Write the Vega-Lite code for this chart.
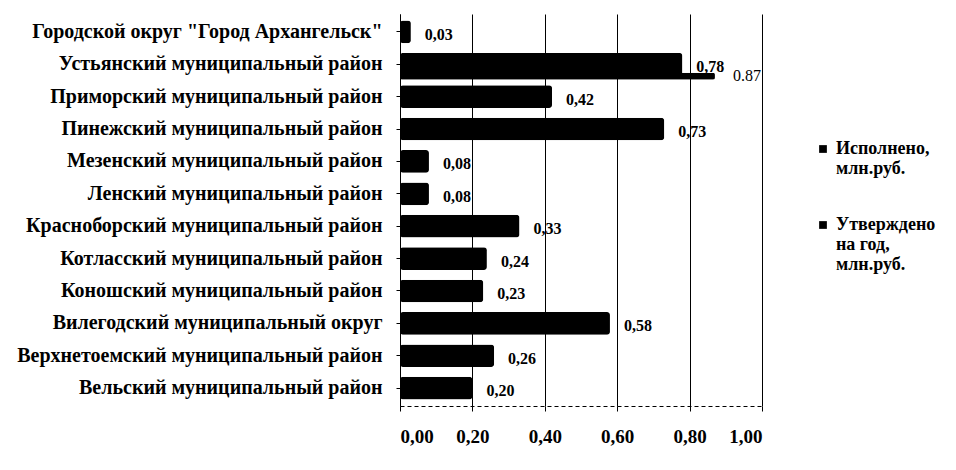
{
  "$schema": "https://vega.github.io/schema/vega-lite/v6.json",
  "autosize": "none",
  "width": 362,
  "height": 392,
  "padding": {"left": 400, "top": 14, "right": 194, "bottom": 64},
  "background": "white",
  "config": {
    "font": "Liberation Serif, Times New Roman, DejaVu Serif, serif",
    "view": {"stroke": null}
  },
  "data": {
    "values": [
      {"район": "Городской округ \"Город Архангельск\"", "серия": "Исполнено, млн.руб.", "значение": 0.03, "подпись": "0,03"},
      {"район": "Устьянский муниципальный район", "серия": "Исполнено, млн.руб.", "значение": 0.78, "подпись": "0,78"},
      {"район": "Устьянский муниципальный район", "серия": "Утверждено на год, млн.руб.", "значение": 0.87, "подпись": "0.87"},
      {"район": "Приморский муниципальный район", "серия": "Исполнено, млн.руб.", "значение": 0.42, "подпись": "0,42"},
      {"район": "Пинежский муниципальный район", "серия": "Исполнено, млн.руб.", "значение": 0.73, "подпись": "0,73"},
      {"район": "Мезенский муниципальный район", "серия": "Исполнено, млн.руб.", "значение": 0.08, "подпись": "0,08"},
      {"район": "Ленский муниципальный район", "серия": "Исполнено, млн.руб.", "значение": 0.08, "подпись": "0,08"},
      {"район": "Красноборский муниципальный район", "серия": "Исполнено, млн.руб.", "значение": 0.33, "подпись": "0,33"},
      {"район": "Котласский муниципальный район", "серия": "Исполнено, млн.руб.", "значение": 0.24, "подпись": "0,24"},
      {"район": "Коношский муниципальный район", "серия": "Исполнено, млн.руб.", "значение": 0.23, "подпись": "0,23"},
      {"район": "Вилегодский муниципальный округ", "серия": "Исполнено, млн.руб.", "значение": 0.58, "подпись": "0,58"},
      {"район": "Верхнетоемский муниципальный район", "серия": "Исполнено, млн.руб.", "значение": 0.26, "подпись": "0,26"},
      {"район": "Вельский муниципальный район", "серия": "Исполнено, млн.руб.", "значение": 0.20, "подпись": "0,20"}
    ]
  },
  "encoding": {
    "y": {
      "field": "район",
      "type": "nominal",
      "sort": null,
      "title": null,
      "scale": {"paddingInner": 0.3, "paddingOuter": 0.2},
      "axis": {
        "labelFont": "Liberation Serif, Times New Roman, DejaVu Serif, serif",
        "labelFontSize": 20,
        "labelFontWeight": "bold",
        "labelColor": "black",
        "labelLimit": 420,
        "labelPadding": 14,
        "domainColor": "black",
        "tickColor": "black",
        "tickSize": 4
      }
    },
    "x": {
      "field": "значение",
      "type": "quantitative",
      "title": null,
      "scale": {"domain": [0, 1]},
      "axis": {
        "values": [0, 0.2, 0.4, 0.6, 0.8, 1.0],
        "labelExpr": "replace(format(datum.value, '.2f'), '.', ',')",
        "labelFont": "Liberation Serif, Times New Roman, DejaVu Serif, serif",
        "labelFontSize": 19,
        "labelFontWeight": "bold",
        "labelColor": "black",
        "labelPadding": 16,
        "grid": true,
        "gridColor": "black",
        "gridWidth": 1,
        "domainColor": "black",
        "domainDash": [4, 3],
        "tickColor": "black"
      }
    }
  },
  "layer": [
    {
      "transform": [{"filter": "datum['серия'] === 'Исполнено, млн.руб.'"}],
      "mark": {"type": "bar", "cornerRadius": 3},
      "encoding": {
        "color": {
          "field": "серия",
          "type": "nominal",
          "scale": {"domain": ["Исполнено, млн.руб.", "Утверждено на год, млн.руб."], "range": ["black", "black"]},
          "legend": {
            "title": null,
            "orient": "none",
            "legendX": 414,
            "legendY": 126,
            "symbolType": "square",
            "symbolSize": 60,
            "labelFont": "Liberation Serif, Times New Roman, DejaVu Serif, serif",
            "labelFontSize": 18,
            "labelFontWeight": "bold",
            "labelColor": "black",
            "labelLimit": 200,
            "labelOffset": 4,
            "rowPadding": 38,
            "labelExpr": "datum.label === 'Исполнено, млн.руб.' ? ['Исполнено,', 'млн.руб.'] : ['Утверждено', 'на год,', 'млн.руб.']"
          }
        }
      }
    },
    {
      "transform": [{"filter": "datum['серия'] === 'Утверждено на год, млн.руб.'"}],
      "mark": {"type": "bar", "cornerRadius": 2, "height": 7, "yOffset": 12, "color": "black"}
    },
    {
      "transform": [{"filter": "datum['серия'] === 'Исполнено, млн.руб.'"}],
      "mark": {"type": "text", "align": "left", "dx": 14, "dy": 3, "fontSize": 16, "fontWeight": "bold", "color": "black"},
      "encoding": {"text": {"field": "подпись"}}
    },
    {
      "transform": [{"filter": "datum['серия'] === 'Утверждено на год, млн.руб.'"}],
      "mark": {"type": "text", "align": "left", "dx": 18, "yOffset": 12, "fontSize": 16, "color": "black"},
      "encoding": {"text": {"field": "подпись"}}
    }
  ]
}
